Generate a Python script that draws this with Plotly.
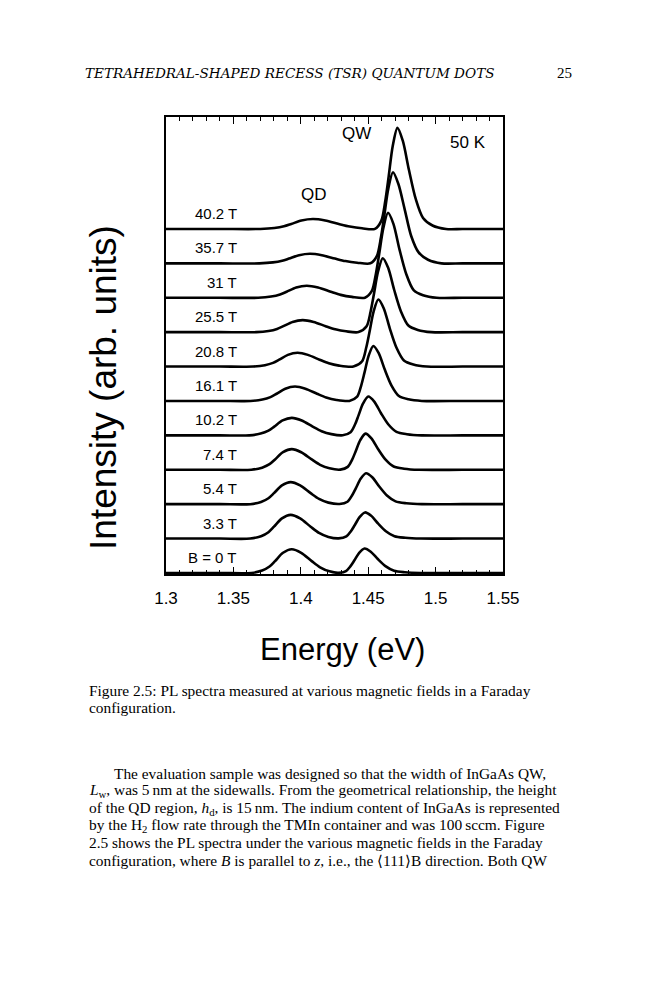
import plotly.graph_objects as go

# PL spectra, one trace per magnetic field (energy in eV, intensity in arb. units)
field_labels = ["B = 0 T", "3.3 T", "5.4 T", "7.4 T", "10.2 T", "16.1 T",
                "20.8 T", "25.5 T", "31 T", "35.7 T", "40.2 T"]

energy_0T = [1.30, 1.34, 1.3633, 1.3713, 1.3768, 1.3809, 1.3868, 1.3933, 1.4003, 1.4081, 1.4143, 1.4213, 1.4277,
             1.4335, 1.4369, 1.4398, 1.4433, 1.4473, 1.4519, 1.4571, 1.4628, 1.4692, 1.4772, 1.4887, 1.52, 1.55]
pl_0T = [0, 0, 0, 0.69, 1.86, 3.45, 5.87, 6.9, 5.87, 3.45, 1.66, 0.48, 0.05,
         0.57, 1.99, 3.69, 5.82, 7.1, 6.18, 4.05, 1.99, 0.64, 0.21, 0, 0, 0]

energy_3_3T = [1.30, 1.34, 1.3625, 1.3705, 1.3760, 1.3801, 1.3860, 1.3925, 1.3995, 1.4073, 1.4135, 1.4205, 1.4280,
               1.4338, 1.4372, 1.4401, 1.4436, 1.4476, 1.4522, 1.4574, 1.4631, 1.4695, 1.4775, 1.4890, 1.52, 1.55]
pl_3_3T = [0, 0, 0, 0.69, 1.86, 3.45, 5.87, 6.9, 5.87, 3.45, 1.66, 0.48, 0.05,
           0.61, 2.13, 3.95, 6.23, 7.6, 6.61, 4.33, 2.13, 0.68, 0.23, 0, 0, 0]

energy_5_4T = [1.30, 1.34, 1.3625, 1.3705, 1.3760, 1.3801, 1.3860, 1.3925, 1.3995, 1.4073, 1.4135, 1.4205, 1.4288,
               1.4346, 1.4380, 1.4409, 1.4444, 1.4484, 1.4530, 1.4582, 1.4639, 1.4703, 1.4783, 1.4898, 1.52, 1.55]
pl_5_4T = [0, 0, 0, 0.64, 1.73, 3.2, 5.44, 6.4, 5.44, 3.2, 1.54, 0.45, 0.05,
           0.72, 2.52, 4.68, 7.38, 9.0, 7.83, 5.13, 2.52, 0.81, 0.27, 0, 0, 0]

energy_7_4T = [1.30, 1.34, 1.3633, 1.3713, 1.3768, 1.3809, 1.3868, 1.3933, 1.4003, 1.4081, 1.4143, 1.4213, 1.4293,
               1.4348, 1.4381, 1.4408, 1.4441, 1.4480, 1.4524, 1.4574, 1.4629, 1.4689, 1.4766, 1.4876, 1.52, 1.55]
pl_7_4T = [0, 0, 0, 0.6, 1.62, 3.0, 5.1, 6.0, 5.1, 3.0, 1.44, 0.42, 0.05,
           0.84, 2.94, 5.46, 8.61, 10.5, 9.14, 5.99, 2.94, 0.95, 0.32, 0, 0, 0]

energy_10_2T = [1.30, 1.34, 1.3618, 1.3702, 1.3760, 1.3803, 1.3865, 1.3933, 1.4007, 1.4088, 1.4154, 1.4227, 1.4311,
                1.4369, 1.4402, 1.4429, 1.4462, 1.4501, 1.4545, 1.4595, 1.4650, 1.4710, 1.4787, 1.4897, 1.52, 1.55]
pl_10_2T = [0, 0, 0, 0.51, 1.38, 2.55, 4.34, 5.1, 4.34, 2.55, 1.22, 0.36, 0.02,
            0.9, 3.16, 5.88, 9.27, 11.3, 9.83, 6.44, 3.16, 1.02, 0.34, 0, 0, 0]

energy_16_1T = [1.30, 1.34, 1.3627, 1.3715, 1.3775, 1.3821, 1.3885, 1.3957, 1.4034, 1.4120, 1.4188, 1.4265, 1.4360,
                1.4418, 1.4448, 1.4473, 1.4503, 1.4538, 1.4578, 1.4623, 1.4673, 1.4728, 1.4798, 1.4898, 1.52, 1.55]
pl_16_1T = [0, 0, 0, 0.42, 1.13, 2.1, 3.57, 4.2, 3.57, 2.1, 1.01, 0.29, 0.02,
            1.28, 4.48, 8.32, 13.12, 16.0, 13.92, 9.12, 4.48, 1.44, 0.48, 0, 0, 0]

energy_20_8T = [1.30, 1.34, 1.3646, 1.3734, 1.3794, 1.3840, 1.3904, 1.3976, 1.4053, 1.4139, 1.4207, 1.4284, 1.4390,
                1.4455, 1.4485, 1.4510, 1.4540, 1.4575, 1.4615, 1.4660, 1.4710, 1.4765, 1.4835, 1.4935, 1.52, 1.55]
pl_20_8T = [0, 0, 0, 0.4, 1.08, 2.0, 3.4, 4.0, 3.4, 2.0, 0.96, 0.28, 0.02,
            1.56, 5.46, 10.14, 15.99, 19.5, 16.97, 11.12, 5.46, 1.76, 0.59, 0, 0, 0]

energy_25_5T = [1.30, 1.34, 1.3669, 1.3761, 1.3824, 1.3871, 1.3939, 1.4014, 1.4095, 1.4184, 1.4256, 1.4336, 1.4428,
                1.4488, 1.4518, 1.4543, 1.4573, 1.4608, 1.4648, 1.4693, 1.4743, 1.4798, 1.4868, 1.4968, 1.52, 1.55]
pl_25_5T = [0, 0, 0, 0.35, 0.95, 1.75, 2.98, 3.5, 2.98, 1.75, 0.84, 0.25, 0.02,
            1.72, 6.02, 11.18, 17.63, 21.5, 18.71, 12.26, 6.02, 1.94, 0.65, 0, 0, 0]

energy_31T = [1.30, 1.34, 1.3684, 1.3780, 1.3846, 1.3895, 1.3966, 1.4044, 1.4128, 1.4222, 1.4296, 1.4380, 1.4476,
              1.4527, 1.4557, 1.4582, 1.4612, 1.4647, 1.4687, 1.4732, 1.4782, 1.4837, 1.4907, 1.5007, 1.52, 1.55]
pl_31T = [0, 0, 0, 0.35, 0.95, 1.75, 2.98, 3.5, 2.98, 1.75, 0.84, 0.25, 0.02,
          1.98, 6.92, 12.84, 20.25, 24.7, 21.49, 14.08, 6.92, 2.22, 0.74, 0, 0, 0]

energy_35_7T = [1.30, 1.34, 1.3693, 1.3793, 1.3862, 1.3913, 1.3987, 1.4068, 1.4156, 1.4253, 1.4331, 1.4418, 1.4516,
                1.4564, 1.4594, 1.4619, 1.4649, 1.4684, 1.4724, 1.4769, 1.4819, 1.4874, 1.4944, 1.5044, 1.52, 1.55]
pl_35_7T = [0, 0, 0, 0.28, 0.76, 1.4, 2.38, 2.8, 2.38, 1.4, 0.67, 0.2, 0.02,
            2.12, 7.42, 13.78, 21.73, 26.5, 23.06, 16.0, 7.95, 3.18, 1.06, 0, 0, 0]

energy_40_2T = [1.30, 1.34, 1.3700, 1.3804, 1.3875, 1.3929, 1.4005, 1.4090, 1.4181, 1.4282, 1.4363, 1.4454, 1.4550,
                1.4597, 1.4627, 1.4652, 1.4682, 1.4717, 1.4757, 1.4802, 1.4852, 1.4907, 1.4977, 1.5077, 1.52, 1.55]
pl_40_2T = [0, 0, 0, 0.29, 0.78, 1.45, 2.47, 2.9, 2.47, 1.45, 0.7, 0.2, 0.02,
            2.35, 8.23, 15.29, 24.11, 29.4, 25.58, 17.2, 8.8, 3.2, 1.0, 0, 0, 0]

energy_sets = [energy_0T, energy_3_3T, energy_5_4T, energy_7_4T, energy_10_2T, energy_16_1T,
               energy_20_8T, energy_25_5T, energy_31T, energy_35_7T, energy_40_2T]
pl_sets = [pl_0T, pl_3_3T, pl_5_4T, pl_7_4T, pl_10_2T, pl_16_1T,
           pl_20_8T, pl_25_5T, pl_31T, pl_35_7T, pl_40_2T]
offset_step = 10

# page text
header_text = "TETRAHEDRAL-SHAPED RECESS (TSR) QUANTUM DOTS"
page_number = "25"
caption_lines = ["Figure 2.5: PL spectra measured at various magnetic fields in a Faraday",
                 "configuration."]
body_lines = [
    "The evaluation sample was designed so that the width of InGaAs QW,",
    "<i>L</i><sub>w</sub>, was 5\u2009nm at the sidewalls. From the geometrical relationship, the height",
    "of the QD region, <i>h</i><sub>d</sub>, is 15\u2009nm. The indium content of InGaAs is represented",
    "by the H<sub>2</sub> flow rate through the TMIn container and was 100\u2009sccm. Figure",
    "2.5 shows the PL spectra under the various magnetic fields in the Faraday",
    "configuration, where <i>B</i> is parallel to <i>z</i>, i.e., the \u27e8111\u27e9B direction. Both QW",
]

# plot frame in page pixels; the page body adds an 8 px margin round the figure
PL_L, PL_R, PL_T, PL_B = 166, 503, 117, 574
W, H = 659, 1000
PAD = 8

SANS = "Liberation Sans, Arial, sans-serif"
SERIF = "Liberation Serif, Times New Roman, serif"


def px(x):
    return (x - PL_L) / (PL_R - PL_L)


def py(y):
    return (PL_B - y) / (PL_B - PL_T)


def page_text(x, y, text, size, family=SERIF, xanchor="center", angle=0):
    fig.add_annotation(xref="paper", yref="paper", x=px(x), y=py(y), text=text,
                       xanchor=xanchor, yanchor="middle", textangle=angle,
                       showarrow=False, font=dict(family=family, size=size, color="black"))


fig = go.Figure()

for k, (e, pl) in enumerate(zip(energy_sets, pl_sets)):
    fig.add_trace(go.Scatter(
        x=e, y=[v + k * offset_step for v in pl], mode="lines",
        line=dict(color="black", width=2.6, shape="spline", smoothing=0.8),
        showlegend=False, hoverinfo="skip"))
    fig.add_annotation(x=1.354, y=k * offset_step + 4.5, text=field_labels[k],
                       xanchor="right", yanchor="middle", showarrow=False,
                       font=dict(family=SANS, size=15, color="black"))

# peak labels
for x, y, t in [(1.4098, 109.9, "QD"), (1.441, 127.8, "QW"), (1.524, 125.2, "50 K")]:
    fig.add_annotation(x=x, y=y, text=t, showarrow=False, xanchor="center", yanchor="middle",
                       font=dict(family=SANS, size=17, color="black"))

# axis titles
page_text(104, 388, "Intensity (arb. units)", 37, family=SANS, angle=-90)
page_text(342, 649, "Energy (eV)", 31, family=SANS)

# running head
page_text(83, 73, "<i>" + header_text + "</i>", 13.6, family="DejaVu Serif, serif", xanchor="left")
page_text(564, 73, page_number, 15)

# caption and body text
for i, line in enumerate(caption_lines):
    page_text(87, 690 + 17.4 * i, line, 15.4, xanchor="left")
for i, line in enumerate(body_lines):
    page_text(112 if i == 0 else 87, 773.5 + 17.3 * i, line, 15.4, xanchor="left")

fig.update_xaxes(
    range=[1.3, 1.55], tick0=1.3, dtick=0.05, ticks="inside", ticklen=7, tickwidth=1.2,
    tickcolor="black", showline=True, linecolor="black", linewidth=1.5, mirror="ticks",
    showgrid=False, zeroline=False, ticklabelstandoff=8,
    tickfont=dict(family=SANS, size=17, color="black"),
    minor=dict(dtick=0.01, tick0=1.3, ticks="inside", ticklen=4, tickwidth=1,
               tickcolor="black", showgrid=False))
fig.update_yaxes(
    range=[-0.3, 132.55], showticklabels=False, ticks="", showline=True,
    linecolor="black", linewidth=1.5, mirror=True, showgrid=False, zeroline=False)

fig.update_layout(
    width=W - 2 * PAD, height=H - 2 * PAD,
    margin=dict(l=PL_L - PAD, r=W - PAD - PL_R, t=PL_T - PAD, b=H - PAD - PL_B),
    paper_bgcolor="white", plot_bgcolor="white")

fig.write_html("out.html")
